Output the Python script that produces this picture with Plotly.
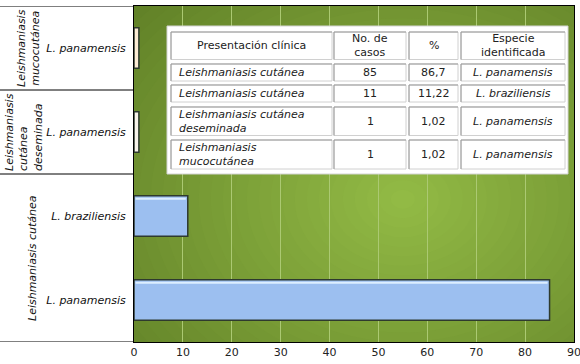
import plotly.graph_objects as go

# ---------------- data ----------------
species = ["L. panamensis", "L. braziliensis", "L. panamensis", "L. panamensis"]
cases = [85, 11, 1, 1]
percent = ["86,7", "11,22", "1,02", "1,02"]
presentation = ["Leishmaniasis cutánea", "Leishmaniasis cutánea",
                "Leishmaniasis cutánea deseminada", "Leishmaniasis mucocutánea"]
group_labels = ["Leishmaniasis cutánea", "Leishmaniasis<br>cutánea<br>deseminada",
                "Leishmaniasis<br>mucocutánea"]
group_spans = [(0, 1), (2, 2), (3, 3)]          # category index ranges of each group
table_header = ["Presentación clínica", "No. de<br>casos", "%", "Especie<br>identificada"]
table_presentation = ["Leishmaniasis cutánea", "Leishmaniasis cutánea",
                      "Leishmaniasis cutánea<br>deseminada", "Leishmaniasis<br>mucocutánea"]
x_ticks = [0, 10, 20, 30, 40, 50, 60, 70, 80, 90]

# ---------------- style ----------------
W, H = 580, 364
ML, MR, MT, MB = 134, 6, 6, 22
PW, PH = W - ML - MR, H - MT - MB
FONT = "Verdana, DejaVu Sans, sans-serif"
bar_colors = ["#9CBFF0", "#9CBFF0", "#F7F2EA", "#FCEBD4"]
BAR_W = 0.48

def px(p):
    return (p - ML) / PW

def py(p):
    return (H - MB - p) / PH

cat_pos = list(range(len(cases)))

fig = go.Figure()
fig.add_trace(go.Bar(
    x=cases, y=cat_pos, orientation="h", width=BAR_W,
    marker=dict(color=bar_colors, line=dict(color="#2E3A2E", width=1.5)),
    hoverinfo="x+y", showlegend=False,
))

shapes = []
# background gradient (nested ellipses, clipped to plot area)
edge = (0x5E, 0x7D, 0x26)
center = (0x94, 0xBC, 0x46)
N = 36
cx, cy = 55, 1.2
for i in range(N):
    r = 1.7 * (1 - i / N)
    t = min(1.0, r / 1.55)
    col = tuple(int(center[k] + (edge[k] - center[k]) * t) for k in range(3))
    shapes.append(dict(type="circle", xref="x", yref="y", layer="below",
                       x0=cx - 52 * r, x1=cx + 52 * r, y0=cy - 2.4 * r, y1=cy + 2.4 * r,
                       fillcolor="rgb(%d,%d,%d)" % col, line=dict(width=0)))

# bevel highlight along top edge of the blue bars
for i, v in enumerate(cases):
    if bar_colors[i] == "#9CBFF0":
        shapes.append(dict(type="line", xref="x", yref="y", layer="above",
                           x0=0.3, x1=v - 0.4, y0=i + BAR_W / 2 - 0.035, y1=i + BAR_W / 2 - 0.035,
                           line=dict(color="#DCEEFF", width=2)))

# left panel frame lines
for yv in [-0.5, 1.5, 2.5, 3.5]:
    shapes.append(dict(type="line", xref="paper", yref="y", x0=px(0), x1=px(ML),
                       y0=yv, y1=yv, line=dict(color="black", width=1)))

# table
shapes.append(dict(type="rect", xref="paper", yref="paper", x0=px(167), x1=px(568),
                   y0=py(174), y1=py(26), fillcolor="white",
                   line=dict(color="#D4D4D4", width=1), layer="above"))
cols = [(171, 332), (334, 406), (409, 458), (461, 565)]
rows = [(32, 59.5), (64, 81), (85, 102), (107, 135.5), (140, 169)]
for (x0, x1) in cols:
    for (y0, y1) in rows:
        shapes.append(dict(type="rect", xref="paper", yref="paper",
                           x0=px(x0), x1=px(x1), y0=py(y1), y1=py(y0),
                           fillcolor="white", line=dict(color="#D0D0D0", width=1)))
        shapes.append(dict(type="path", xref="paper", yref="paper",
                           path="M %f %f L %f %f L %f %f" % (px(x0), py(y1), px(x0), py(y0), px(x1), py(y0)),
                           line=dict(color="#9A9A9A", width=1)))

annotations = []
# group labels (rotated)
gx = [32, 24, 28]
galign = ["center", "left", "center"]
for lab, (a, b), x, al in zip(group_labels, group_spans, gx, galign):
    annotations.append(dict(text="<i>%s</i>" % lab, xref="paper", yref="y",
                            x=px(x), y=(a + b) / 2, textangle=-90, showarrow=False,
                            xanchor="center", yanchor="middle", align=al,
                            font=dict(family=FONT, size=11, color="#111")))

def cell_text(txt, col, row, anchor="center", italic=False):
    x0, x1 = cols[col]
    y0, y1 = rows[row]
    if anchor == "left":
        x = px(x0 + 6)
    else:
        x = px((x0 + x1) / 2)
    t = "<i>%s</i>" % txt if italic else txt
    annotations.append(dict(text=t, xref="paper", yref="paper", x=x, y=py((y0 + y1) / 2),
                            xanchor=anchor, yanchor="middle", align=anchor, showarrow=False,
                            font=dict(family=FONT, size=11, color="#222")))

for c, h in enumerate(table_header):
    cell_text(h, c, 0)
for r in range(len(cases)):
    cell_text(table_presentation[r], 0, r + 1, anchor="left", italic=True)
    cell_text(str(cases[r]), 1, r + 1)
    cell_text(percent[r], 2, r + 1)
    cell_text(species[r], 3, r + 1, italic=True)

fig.update_layout(
    width=W, height=H, autosize=False,
    margin=dict(l=ML, r=MR, t=MT, b=MB, pad=0, autoexpand=False),
    paper_bgcolor="white", plot_bgcolor="#5E7D26",
    shapes=shapes, annotations=annotations,
    font=dict(family=FONT, size=11, color="#111"),
    bargap=0.5,
)
fig.update_xaxes(range=[0, 90], tickvals=x_ticks, ticktext=[str(v) for v in x_ticks],
                 showgrid=True, gridcolor="#ABC972", gridwidth=1, zeroline=False,
                 showline=True, linecolor="black", linewidth=1, mirror=True, automargin=False,
                 ticklabeloverflow="allow",
                 ticks="", tickfont=dict(family=FONT, size=11, color="#222"), fixedrange=True)
fig.update_yaxes(range=[-0.5, 3.5], tickvals=cat_pos,
                 ticktext=["<i>%s</i>" % s for s in species], automargin=False,
                 showgrid=False, zeroline=False, showline=True, linecolor="black",
                 linewidth=1, mirror=True, ticks="", ticklabelstandoff=5,
                 tickfont=dict(family=FONT, size=11, color="#111"), fixedrange=True)

fig.write_html("out.html", config={"displayModeBar": False},
               post_script="document.body.style.margin='0';document.body.style.overflow='hidden';")
